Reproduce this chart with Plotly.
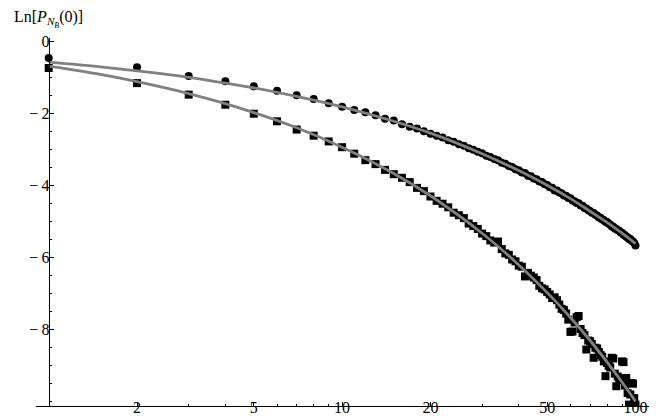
import plotly.graph_objects as go

# 1. data (N = 1..100)
n_values = list(range(1, 101))

circle_values = [
    -0.45, -0.71, -0.95, -1.10, -1.24, -1.36, -1.49, -1.59, -1.71, -1.81,
    -1.90, -1.96, -2.04, -2.14, -2.19, -2.29, -2.36, -2.41, -2.49, -2.56,
    -2.61, -2.66, -2.74, -2.78, -2.85, -2.89, -2.96, -3.00, -3.06, -3.10,
    -3.17, -3.20, -3.26, -3.29, -3.36, -3.39, -3.45, -3.48, -3.54, -3.57,
    -3.63, -3.65, -3.72, -3.74, -3.80, -3.82, -3.88, -3.90, -3.96, -3.98,
    -4.04, -4.06, -4.13, -4.13, -4.19, -4.21, -4.27, -4.28, -4.34, -4.35,
    -4.41, -4.43, -4.48, -4.49, -4.55, -4.56, -4.62, -4.63, -4.68, -4.70,
    -4.75, -4.76, -4.81, -4.83, -4.88, -4.89, -4.94, -4.95, -5.00, -5.01,
    -5.06, -5.08, -5.13, -5.14, -5.19, -5.20, -5.24, -5.25, -5.30, -5.31,
    -5.36, -5.37, -5.42, -5.43, -5.48, -5.48, -5.53, -5.55, -5.59, -5.66,
]

square_values = [
    -0.73, -1.15, -1.47, -1.75, -2.00, -2.21, -2.44, -2.61, -2.77, -2.93,
    -3.11, -3.29, -3.40, -3.56, -3.68, -3.78, -3.90, -4.06, -4.15, -4.30,
    -4.42, -4.50, -4.60, -4.75, -4.82, -4.90, -5.05, -5.12, -5.20, -5.33,
    -5.40, -5.52, -5.58, -5.55, -5.76, -5.88, -5.92, -6.05, -6.10, -6.22,
    -6.25, -6.52, -6.42, -6.50, -6.55, -6.62, -6.78, -6.85, -6.88, -6.95,
    -7.02, -7.12, -7.10, -7.18, -7.30, -7.42, -7.45, -7.55, -7.72, -8.06,
    -8.05, -7.80, -7.65, -7.62, -7.98, -8.09, -8.15, -8.55, -8.30, -8.32,
    -8.40, -8.78, -8.50, -8.52, -8.62, -8.70, -8.75, -8.88, -9.29, -8.92,
    -9.00, -9.05, -8.78, -8.80, -9.22, -9.57, -9.30, -9.35, -9.40, -8.88,
    -8.90, -9.55, -9.34, -9.76, -10.08, -9.80, -9.48, -9.50, -9.90, -10.08,
]

# gray fit curves
fit_n = [1, 1.5, 2, 3, 4, 5, 7, 10, 15, 20, 30, 40, 50, 60, 70, 80, 90, 100]
fit_circle = [-0.57, -0.70, -0.81, -0.99, -1.15, -1.28, -1.52, -1.81, -2.21,
              -2.54, -3.11, -3.58, -3.99, -4.36, -4.71, -5.02, -5.32, -5.61]
fit_square = [-0.68, -0.91, -1.11, -1.44, -1.72, -1.97, -2.39, -2.93, -3.66,
              -4.28, -5.32, -6.20, -6.97, -7.66, -8.30, -8.90, -9.46, -9.99]

# ticks
x_major = [2, 5, 10, 20, 50, 100]
x_minor = [3, 4, 6, 7, 8, 9, 30, 40, 60, 70, 80, 90]
y_major = [0, -2, -4, -6, -8]
y_labels = ["0", "\u2212\u20092", "\u2212\u20094", "\u2212\u20096", "\u2212\u20098"]

serif = "Liberation Serif"
tick_font = dict(family=serif, size=16, color='black')

# 2. figure
fig = go.Figure()

fig.add_trace(go.Scatter(
    x=n_values, y=circle_values, mode='markers',
    marker=dict(symbol='circle', size=8, color='black'),
    showlegend=False
))
fig.add_trace(go.Scatter(
    x=n_values, y=square_values, mode='markers',
    marker=dict(symbol='square', size=8, color='black'),
    showlegend=False
))
fig.add_trace(go.Scatter(
    x=fit_n, y=fit_circle, mode='lines', line_shape='spline',
    line=dict(color='rgb(128,128,128)', width=2.8),
    showlegend=False
))
fig.add_trace(go.Scatter(
    x=fit_n, y=fit_square, mode='lines', line_shape='spline',
    line=dict(color='rgb(128,128,128)', width=2.8),
    showlegend=False
))

# 3. layout first, then axes (Mathematica style: axes cross at N=1, ticks inside)
fig.update_layout(
    width=664, height=419,
    margin=dict(l=28, r=23, t=30, b=21),
    plot_bgcolor='white', paper_bgcolor='white',
    font=dict(family=serif, size=16, color='black'),
)

x_lo, x_hi = -0.0433, 2.046
fig.layout.xaxis = dict(
    type='log', range=[x_lo, x_hi],
    showline=True, linecolor='black', linewidth=1,
    showgrid=False, zeroline=False,
    tickmode='array', tickvals=x_major, ticktext=[str(v) for v in x_major],
    ticks='inside', ticklen=4, tickwidth=1, tickcolor='black',
    ticklabelstandoff=-13,
    tickfont=tick_font,
    minor=dict(tickmode='array', tickvals=x_minor, ticks='inside',
               ticklen=2.5, tickwidth=1, tickcolor='black', showgrid=False),
    automargin=False
)
fig.layout.yaxis = dict(
    range=[-10.119, 0.103],
    anchor='free', position=(0 - x_lo) / (x_hi - x_lo),
    showline=True, linecolor='black', linewidth=1,
    showgrid=False, zeroline=False,
    tickmode='array', tickvals=y_major, ticktext=y_labels,
    ticks='inside', ticklen=4, tickwidth=1, tickcolor='black',
    ticklabelstandoff=-4,
    tickfont=tick_font,
    minor=dict(dtick=0.5, ticks='inside', ticklen=2.5, tickwidth=1,
               tickcolor='black', showgrid=False),
    automargin=False
)

# 4. axis labels
fig.add_annotation(
    text="Ln[<i>P</i><sub><i>N</i><sub><i>B</i></sub></sub>(0)]",
    xref='paper', yref='paper', x=-0.039, y=1.088,
    xanchor='left', yanchor='top', showarrow=False,
    font=dict(family=serif, size=16, color='black')
)
fig.add_annotation(
    text="N", xref='paper', yref='paper', x=1.011, y=0.012,
    xanchor='left', yanchor='middle', showarrow=False,
    font=dict(family=serif, size=17, color='black')
)

fig.write_html("out.html")
